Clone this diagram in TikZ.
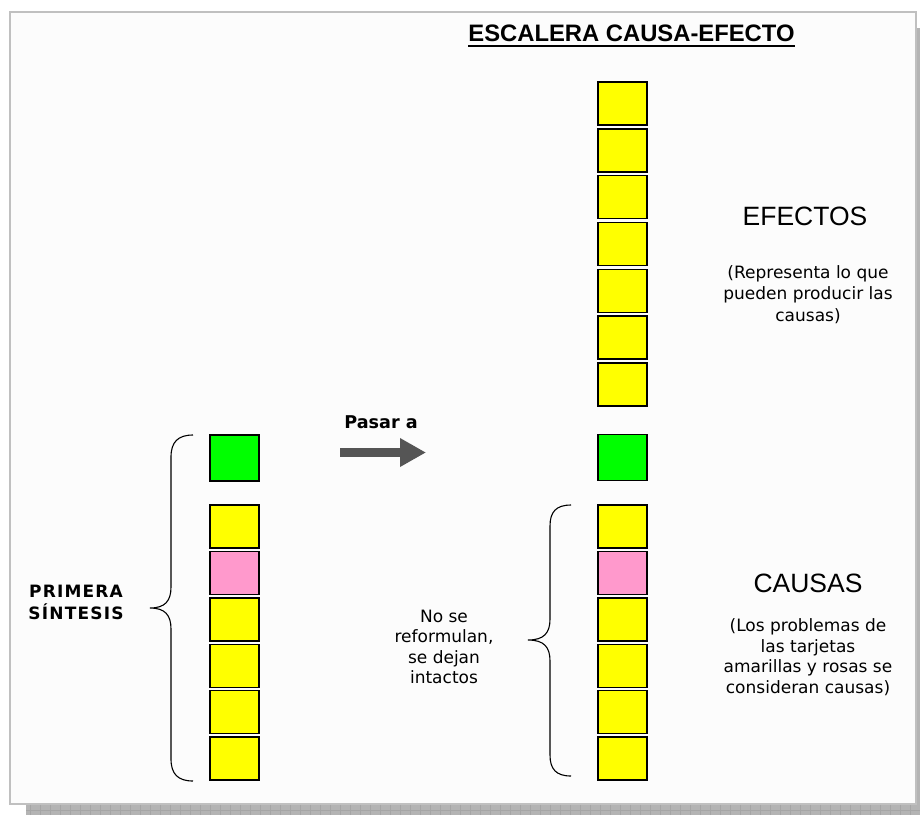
\documentclass[tikz,border=0pt]{standalone}
\usepackage{fontspec}
\setmainfont{DejaVu Sans}
\newfontfamily\arialfont{Liberation Sans}
\usepackage{xcolor}
\usepackage{tikz}
\usetikzlibrary{arrows.meta, positioning}
\definecolor{cardyellow}{HTML}{FFFF00}
\definecolor{cardgreen}{HTML}{00FF00}
\definecolor{cardpink}{HTML}{FF99CC}
\definecolor{framegray}{HTML}{C0C0C0}
\definecolor{shadowgray}{HTML}{B4B4B4}
\definecolor{pagewhite}{HTML}{FCFCFC}
\definecolor{arrowgray}{HTML}{555555}

\tikzset{
  card/.style={draw=black, line width=1.4pt, minimum width=49pt, minimum height=43pt, inner sep=0pt},
  note/.style={font=\fontsize{17}{20.5}\selectfont, align=center, inner sep=0pt},
  heading/.style={font=\arialfont\fontsize{26.5}{30}\selectfont, inner sep=0pt},
  bracket/.style={draw=black, line width=1.1pt},
}

\begin{document}
\begin{tikzpicture}[x=1pt, y=-1pt]
  \useasboundingbox (0,0) rectangle (920,815);
  % Shadow and frame
  \fill[shadowgray] (26,805) rectangle (920,815);
  \fill[shadowgray] (917,28) rectangle (920,815);
  \draw[gray!70, very thin, step=10pt] (26,805) grid (920,815);
  \draw[framegray, line width=2.5pt, fill=pagewhite] (10,12) rectangle (916,804);
  % Title
  \node[font=\arialfont\bfseries\fontsize{23.8}{28}\selectfont, inner sep=0pt] (title) at (631.5,33) {ESCALERA CAUSA-EFECTO};
  \draw[line width=2pt] ([yshift=-5pt]title.base west) -- ([yshift=-5pt]title.base east);
  % Left column (primera sintesis)
  \node[card, fill=cardgreen, minimum height=46pt] (l0) at (234.5,458) {};
  \foreach \i/\col in {1/cardyellow,2/cardpink,3/cardyellow,4/cardyellow,5/cardyellow,6/cardyellow} {
    \node[card, fill=\col] (l\i) at (234.5, 480.1+\i*46.4) {};
    \node[card, fill=\col] (r\i) at (622.5, 480.1+\i*46.4) {};
  }
  % Right column (escalera)
  \foreach \i in {1,...,7}
    \node[card, fill=cardyellow] (u\i) at (622.5, 56.7+\i*46.8) {};
  \node[card, fill=cardgreen, minimum height=46pt] (r0) at (622.5,457.5) {};
  % Arrow
  \coordinate (pasarfrom) at (340,452.5);
  \coordinate (pasarto) at (426,452.5);
  \draw[arrowgray, line width=9pt, -{Triangle[length=26pt, width=27pt]}] (pasarfrom) -- (pasarto);
  \node[font=\bfseries\fontsize{17.6}{20}\selectfont, inner sep=0pt] (pasar) at (381,422) {Pasar a};
  % Braces
  \draw[bracket] (193,435) .. controls (178,435) and (171,442) .. (171,457) -- (171,587)
    .. controls (171,601) and (165,608) .. (150,608) .. controls (165,608) and (171,615) .. (171,629)
    -- (171,759) .. controls (171,774) and (178,781) .. (193,781);
  \draw[bracket] (571,505) .. controls (556,505) and (550,512) .. (550,526) -- (550,619)
    .. controls (550,633) and (544,640) .. (528,640) .. controls (544,640) and (550,647) .. (550,661)
    -- (550,755) .. controls (550,769) and (556,776) .. (571,776);
  % Labels
  \node[font=\bfseries\fontsize{17}{22}\selectfont\addfontfeature{LetterSpace=7}, align=center, inner sep=0pt] (primera) at (76,602) {PRIMERA\\SÍNTESIS};
  \node[note] (intactos) at (444,647) {No se\\reformulan,\\se dejan\\intactos};
  \node[heading] (efectos) at (805,216) {EFECTOS};
  \node[note, font=\fontsize{17}{21.5}\selectfont] (efectosnote) at (808,294.5) {(Representa lo que\\pueden producir las\\causas)};
  \node[heading] (causas) at (808,583) {CAUSAS};
  \node[note] (causasnote) at (808,657) {(Los problemas de\\las tarjetas\\amarillas y rosas se\\consideran causas)};
\end{tikzpicture}
\end{document}
